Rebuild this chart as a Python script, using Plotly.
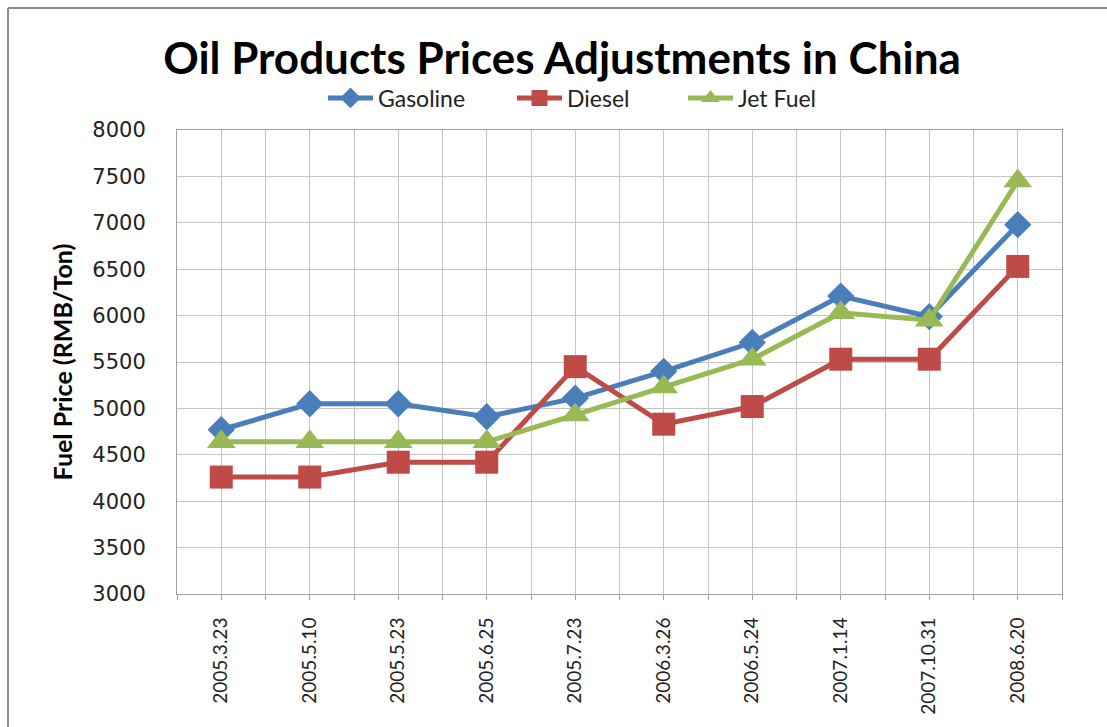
import plotly.graph_objects as go

# Adjustment dates and ex-refinery prices (RMB per ton)
dates = ["2005.3.23", "2005.5.10", "2005.5.23", "2005.6.25", "2005.7.23",
         "2006.3.26", "2006.5.24", "2007.1.14", "2007.10.31", "2008.6.20"]
gasoline = [4770, 5050, 5050, 4910, 5110, 5400, 5710, 6210, 5990, 6980]
diesel = [4260, 4260, 4420, 4420, 5450, 4830, 5020, 5530, 5530, 6530]
jet_fuel = [4640, 4640, 4640, 4640, 4930, 5230, 5530, 6030, 5950, 7450]

W, H = 1107, 727
ML, MR, MT, MB = 177, 45, 130, 133
PW, PH = W - ML - MR, H - MT - MB


def px_to_paper_x(px):
    return (px - ML) / PW


def px_to_paper_y(py):
    return 1 - (py - MT) / PH


x = list(range(len(dates)))

# name, values, colour, marker, marker size, legend id, legend left edge (px)
series = [
    ("Gasoline", gasoline, "#4a7ebb", "diamond", 21, "legend", 323),
    ("Diesel", diesel, "#be4b48", "square", 23, "legend2", 512),
    ("Jet Fuel", jet_fuel, "#98b954", "triangle-up", 25, "legend3", 683),
]

fig = go.Figure()
legend_layouts = {}
for name, vals, color, sym, size, leg, leg_x in series:
    fig.add_trace(go.Scatter(
        x=x, y=vals, name=name, mode="lines+markers",
        line=dict(color=color, width=5),
        marker=dict(symbol=sym, size=size, color=color),
        legend=leg, showlegend=True,
    ))
    legend_layouts[leg] = dict(
        visible=True,
        orientation="h", x=px_to_paper_x(leg_x), xanchor="left",
        y=px_to_paper_y(98), yanchor="middle",
        font=dict(family="Lato", size=23, color="#222"),
        itemwidth=45, bgcolor="rgba(0,0,0,0)",
    )

# gridlines and ticks at every category and every boundary between them
tickvals = [i * 0.5 - 0.5 for i in range(2 * len(dates) + 1)]
ticktext = [dates[int(v)] if v == int(v) and v >= 0 else "" for v in tickvals]

frame = dict(color="#8c8c8c", width=2)

fig.update_layout(
    width=W, height=H,
    showlegend=True,
    margin=dict(l=ML, r=MR, t=MT, b=MB),
    paper_bgcolor="white", plot_bgcolor="white",
    title=dict(
        text="<b>Oil Products Prices Adjustments in China</b>",
        x=562 / W, xanchor="center", xref="container",
        y=1 - 59 / H, yanchor="middle", yref="container",
        font=dict(family="Lato", size=44, color="black"),
    ),
    xaxis=dict(
        range=[-0.5, len(dates) - 0.5],
        tickmode="array", tickvals=tickvals, ticktext=ticktext,
        tickangle=-90, ticks="outside", ticklen=5, tickcolor="#a0a0a0",
        ticklabelstandoff=10,
        showgrid=True, gridcolor="#c4c4c4", gridwidth=1,
        showline=True, linecolor="#a0a0a0", linewidth=1, mirror=True,
        tickfont=dict(family="Lato", size=19, color="#222"),
        zeroline=False,
    ),
    yaxis=dict(
        range=[3000, 8000], dtick=500, tick0=3000,
        showgrid=True, gridcolor="#c4c4c4", gridwidth=1,
        showline=True, linecolor="#a0a0a0", linewidth=1, mirror=True,
        ticks="", ticklabelstandoff=26,
        tickfont=dict(family="DejaVu Sans", size=21, color="#222"),
        title=dict(text="<b>Fuel Price (RMB/Ton)</b>", standoff=12,
                   font=dict(family="Lato", size=25, color="black")),
        zeroline=False,
    ),
    shapes=[
        dict(type="line", xref="paper", yref="paper",
             x0=px_to_paper_x(8), x1=px_to_paper_x(W + 5),
             y0=px_to_paper_y(8), y1=px_to_paper_y(8), line=frame),
        dict(type="line", xref="paper", yref="paper",
             x0=px_to_paper_x(8), x1=px_to_paper_x(8),
             y0=px_to_paper_y(8), y1=px_to_paper_y(H + 5), line=frame),
    ],
    **legend_layouts,
)

fig.write_html("out.html")
